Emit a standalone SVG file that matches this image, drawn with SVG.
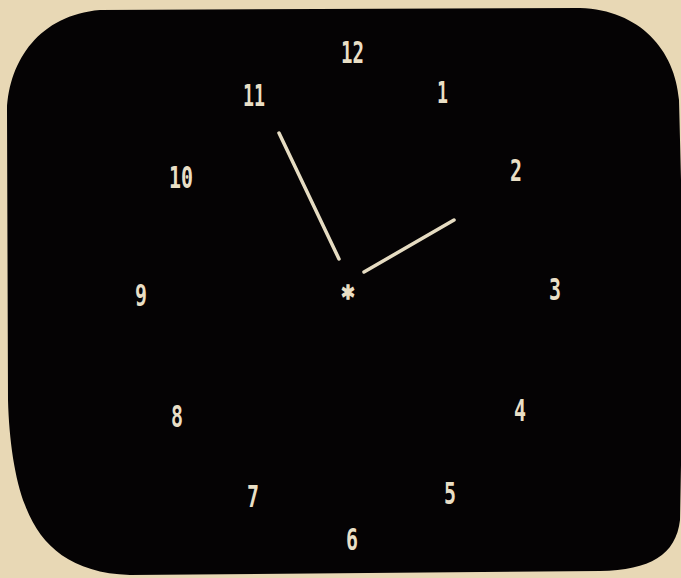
<svg xmlns="http://www.w3.org/2000/svg" width="681" height="578" viewBox="0 0 681 578">
<style>
.num{font-family:"DejaVu Sans Mono","Liberation Mono",monospace;font-weight:bold;font-size:30px;fill:#e9dfc6;text-anchor:middle}
.hand{stroke:#e6dcc2;stroke-width:3.5;stroke-linecap:round;fill:none}
</style>
<rect width="681" height="578" fill="#e8d8b5"/>
<path id="screen" d="M100,10 L580,8 C640,10 675,50 679,100 L684,300 L680,520 C676,555 650,570 600,571 L130,575 C70,573 40,545 25,505 C15,480 9,440 8,400 L7,110 C9,60 40,15 100,10 Z" fill="#050304"/>
<g id="dial">
<text class="num" x="352.5" y="63" textLength="23" lengthAdjust="spacingAndGlyphs">12</text>
<text class="num" x="442.5" y="103" textLength="11" lengthAdjust="spacingAndGlyphs">1</text>
<text class="num" x="516" y="181" textLength="12" lengthAdjust="spacingAndGlyphs">2</text>
<text class="num" x="555" y="300" textLength="12" lengthAdjust="spacingAndGlyphs">3</text>
<text class="num" x="520" y="421" textLength="12" lengthAdjust="spacingAndGlyphs">4</text>
<text class="num" x="450" y="504" textLength="12" lengthAdjust="spacingAndGlyphs">5</text>
<text class="num" x="352" y="550" textLength="12" lengthAdjust="spacingAndGlyphs">6</text>
<text class="num" x="253" y="507" textLength="12" lengthAdjust="spacingAndGlyphs">7</text>
<text class="num" x="177" y="427" textLength="12" lengthAdjust="spacingAndGlyphs">8</text>
<text class="num" x="141" y="306" textLength="12" lengthAdjust="spacingAndGlyphs">9</text>
<text class="num" x="181" y="188" textLength="24" lengthAdjust="spacingAndGlyphs">10</text>
<text class="num" x="254" y="106" textLength="22" lengthAdjust="spacingAndGlyphs">11</text>
</g>
<g id="hands">
<line class="hand" x1="279" y1="133" x2="339" y2="259"/>
<line class="hand" x1="364" y1="272" x2="454" y2="220"/>
</g>
<text id="center" class="num" x="348" y="307" font-size="40" textLength="14" lengthAdjust="spacingAndGlyphs" stroke="#e9dfc6" stroke-width="1.5">*</text>
</svg>
